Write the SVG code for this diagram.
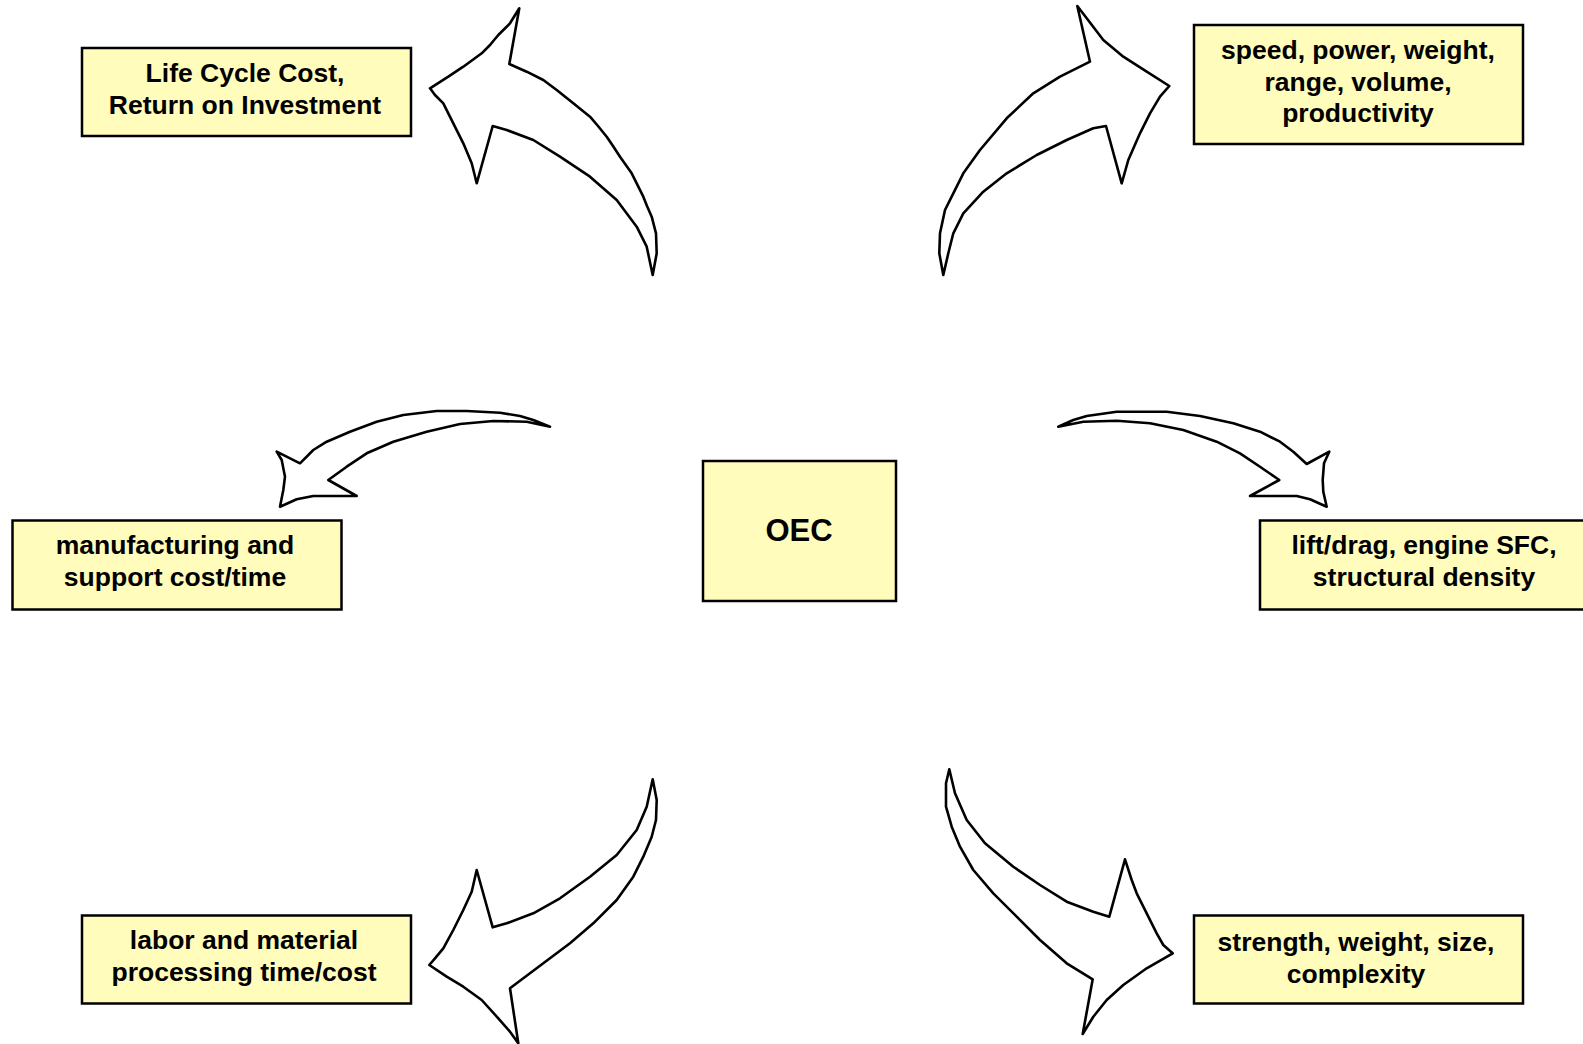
<svg xmlns="http://www.w3.org/2000/svg" width="1583" height="1044" viewBox="0 0 1583 1044">
  <style>
    .box { fill: #FFFCBC; stroke: #000; stroke-width: 2.5; }
    .lbl { font-family: "Liberation Sans", Arial, sans-serif; font-weight: bold; font-size: 26.5px; fill: #000; text-anchor: middle; }
    .big { font-size: 31px; }
    .arrow { fill: #fff; stroke: #000; stroke-width: 2.6; stroke-linejoin: round; }
  </style>

  <!-- curved block arrows radiating from the centre -->
  <g id="connectors">
    <polygon class="arrow" points="652.7,275 656.7,253.3 656,233.3 651.7,216.7 647,206 643.3,196.7 631.7,173.3 620,156.7 613,146 606.7,136.7 598,126 590,116.7 573.3,103.3 556.7,90 543.3,80 526.7,71.7 509.3,64 519.3,8.3 510,23.3 498.3,35 490,45 481.7,53.3 463.3,66.7 448.3,76.7 430,88.3 435,95 443.3,103.3 453.3,123.3 463.3,143.3 471.7,163.3 476.7,183.3 492.7,126 506.7,130 533.3,140 560,156.7 590,176.7 616.7,200 636.7,226.7 646.7,246.7 652.7,275"/>
    <polygon class="arrow" points="943.3,275 939.3,253.3 940,233.3 945,210 953.3,193.3 963.3,173.3 980,150 1006.7,118.3 1033.3,93.3 1060,76.7 1090,61.7 1077.3,6 1086.7,18.3 1103.3,40 1123.3,56.7 1146.7,71.7 1169.3,86 1160,96.7 1150,113.3 1140,133.3 1128.3,160 1121.7,183.3 1106,126 1093.3,128.3 1066.7,140 1036.7,155 1006.7,173.3 983.3,191.7 963.3,213.3 953.3,233.3 948.3,253.3 943.3,275"/>
    <polygon class="arrow" points="550,426.7 533.3,420 520,416 500,412.7 466.7,411 436.7,411 403.3,415 376.7,421.7 350,431.7 326.7,441.7 313.3,450 300,463.3 276.7,451.7 281.7,460 285,476.7 283.3,490 280,506.7 296.7,499.3 313.3,496 356.7,496 328.3,480 346.7,466.7 366.7,453.3 393.3,441.7 426.7,431.7 460,424 493.3,421 526.7,421.7 550,426.7"/>
    <polygon class="arrow" points="1058.3,426.7 1073.3,420 1086.7,416 1116.7,411.7 1166.7,411.7 1200,416 1233.3,423.3 1260,431.7 1280,441.7 1293.3,451.7 1306.7,464 1329.3,451.7 1324,463.3 1322.7,480 1323.3,491.7 1326.7,506.7 1310,499.3 1296.7,496 1250,496 1279.3,480 1260,466.7 1240,453.3 1216.7,441.7 1183.3,430 1150,423.3 1116.7,420.7 1083.3,421.7 1058.3,426.7"/>
    <polygon class="arrow" points="652.7,779.3 656.7,800 656,820 651.7,836.7 643.3,856.7 633.3,876.7 616.7,900 593.3,923.3 570,943.3 543.3,963.3 510,988.3 518.3,1043.3 510,1031.7 498.3,1018.3 481.7,1000 463.3,986.7 446.7,976.7 429.3,965 435,958.3 443.3,948.3 453.3,930 463.3,910 471.7,891.7 476.7,870 492.7,927.3 506.7,923.3 533.3,913.3 560,898.3 590,876.7 616.7,855 636.7,830 646.7,806.7 652.7,779.3"/>
    <polygon class="arrow" points="949.3,769.3 946,783.3 946,806.7 951.7,826.7 960,846.7 973.3,870 993.3,893.3 1016.7,916.7 1040,940 1066.7,963.3 1092.7,979.3 1082.7,1034 1093.3,1016.7 1106.7,1000 1123.3,985 1146.7,968.3 1172.7,953.3 1163.3,945 1156.7,933.3 1146.7,913.3 1136.7,893.3 1131.7,880 1125,859.3 1109.3,916.7 1093.3,911.7 1066.7,901.7 1040,885 1013.3,866.7 985,843.3 966.7,820 955,793.3 949.3,769.3"/>
  </g>

  <g id="oec">
    <rect class="box" x="703" y="461" width="193" height="140"/>
    <text class="lbl big" x="799" y="541">OEC</text>
  </g>

  <g id="life-cycle-cost">
    <rect class="box" x="82" y="48" width="329" height="88"/>
    <text class="lbl" x="245" y="82">Life Cycle Cost,</text>
    <text class="lbl" x="245" y="114">Return on Investment</text>
  </g>

  <g id="performance">
    <rect class="box" x="1194" y="25" width="329" height="119"/>
    <text class="lbl" x="1358" y="58.5">speed, power, weight,</text>
    <text class="lbl" x="1358" y="90.5">range, volume,</text>
    <text class="lbl" x="1358" y="121.5">productivity</text>
  </g>

  <g id="manufacturing">
    <rect class="box" x="12.5" y="520.5" width="329" height="89"/>
    <text class="lbl" x="175" y="554">manufacturing and</text>
    <text class="lbl" x="175" y="586">support cost/time</text>
  </g>

  <g id="technology">
    <rect class="box" x="1260" y="520.5" width="329" height="89"/>
    <text class="lbl" x="1424" y="554">lift/drag, engine SFC,</text>
    <text class="lbl" x="1424" y="586">structural density</text>
  </g>

  <g id="labor">
    <rect class="box" x="82" y="915.5" width="329" height="88"/>
    <text class="lbl" x="244" y="949">labor and material</text>
    <text class="lbl" x="244" y="981">processing time/cost</text>
  </g>

  <g id="structure">
    <rect class="box" x="1194" y="915.5" width="329" height="88"/>
    <text class="lbl" x="1356" y="951">strength, weight, size,</text>
    <text class="lbl" x="1356" y="983">complexity</text>
  </g>
</svg>
